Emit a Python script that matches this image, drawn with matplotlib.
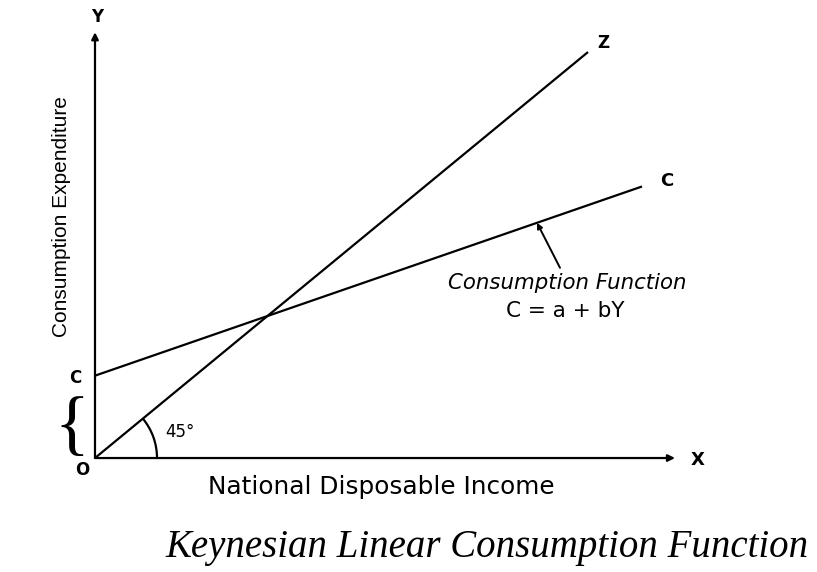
import numpy as np
import matplotlib.pyplot as plt
from matplotlib.patches import Arc

# data (45 degree line and consumption function C = a + bY)
z_income = [0, 493]
z_cons = [0, 493]
a = 100
b = 0.42
c_income = np.array([0, 547])
c_cons = a + b * c_income

x_end = 580
y_end = 517

fig = plt.figure(figsize=(8.17, 5.72), dpi=100)
ax = fig.add_axes([0, 0, 1, 1])
ax.set_xlim(-95, 722)
ax.set_ylim(-138.4, 556.2)
ax.axis("off")

sans = "DejaVu Sans"
lw = 1.6

# axes with arrows
ax.annotate("", xy=(0, y_end), xytext=(0, 0),
            arrowprops=dict(arrowstyle="-|>", color="black", lw=lw, mutation_scale=10, shrinkA=0, shrinkB=0))
ax.annotate("", xy=(x_end, 0), xytext=(0, 0),
            arrowprops=dict(arrowstyle="-|>", color="black", lw=lw, mutation_scale=10, shrinkA=0, shrinkB=0))

# lines
ax.plot(z_income, z_cons, color="black", lw=lw, solid_capstyle="butt")
ax.plot(c_income, c_cons, color="black", lw=lw, solid_capstyle="butt")

# 45 degree arc
ax.add_patch(Arc((0, 0), 124, 150.6, theta1=0, theta2=45, color="black", lw=lw))
ax.text(85, 32, "45°", fontsize=12, family=sans, ha="center", va="center")

# labels
ax.text(2, 536, "Y", fontsize=12, family=sans, ha="center", va="center", weight="bold")
ax.text(603, -3, "X", fontsize=13, family=sans, ha="center", va="center", weight="bold")
ax.text(508, 504, "Z", fontsize=12, family=sans, ha="center", va="center", weight="bold")
ax.text(572, 336, "C", fontsize=13, family=sans, ha="center", va="center", weight="bold")
ax.text(-20, 97, "C", fontsize=12, family=sans, ha="center", va="center", weight="bold")
ax.text(-13, -15, "O", fontsize=12, family=sans, ha="center", va="center", weight="bold")
ax.text(-23, 36, "{", fontsize=52, family="Liberation Serif", ha="center", va="center")

# consumption function note
tip_x = 442
ax.annotate("", xy=(tip_x, a + b * tip_x), xytext=(465, 231),
            arrowprops=dict(arrowstyle="-|>", color="black", lw=1.4, mutation_scale=8, shrinkA=0, shrinkB=0))
ax.text(472, 212, "Consumption Function", fontsize=15.3, family=sans, style="italic",
        ha="center", va="center")
ax.text(470, 178, "C = a + bY", fontsize=15.5, family=sans, ha="center", va="center")

ax.text(286, -35, "National Disposable Income", fontsize=17.8, family=sans, ha="center", va="center")
ax.text(-33, 293, "Consumption Expenditure", fontsize=15, family="Liberation Sans", rotation=90,
        ha="center", va="center")

ax.text(392, -109, "Keynesian Linear Consumption Function", fontsize=28,
        family="Liberation Serif", style="italic", ha="center", va="center")

fig.savefig("out.png", dpi=100, facecolor="white")
